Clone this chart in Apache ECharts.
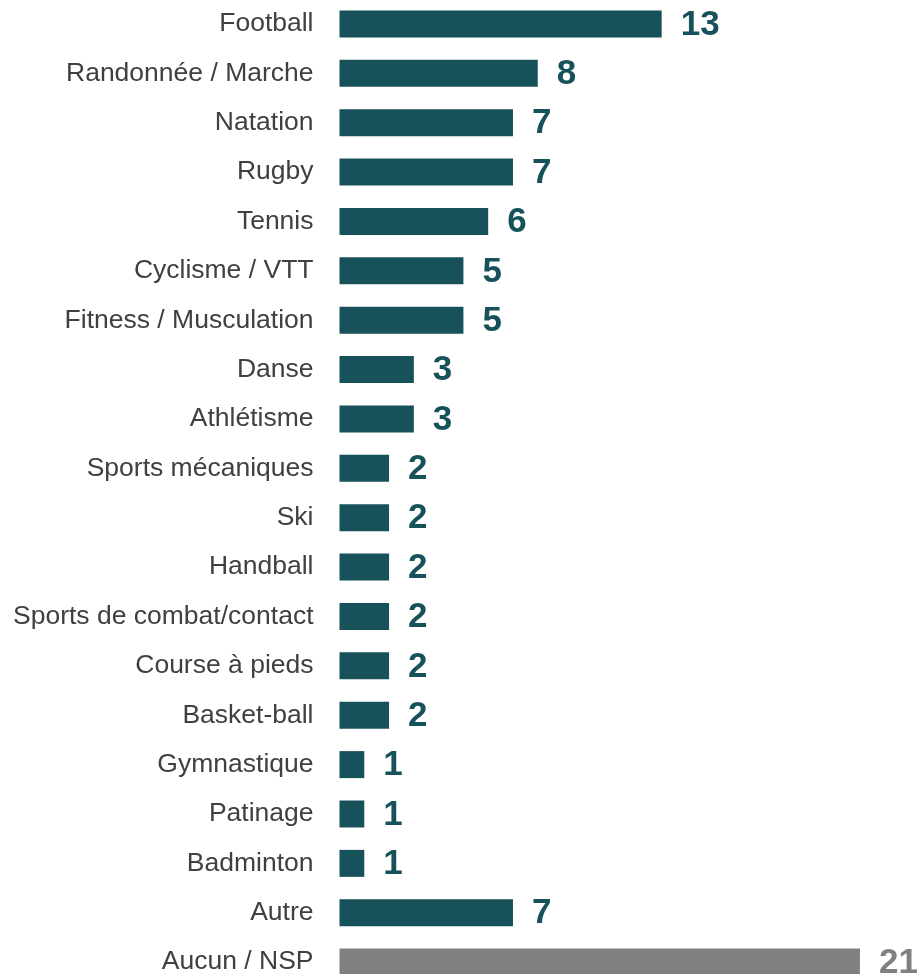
<!DOCTYPE html>
<html>
<head>
<meta charset="utf-8">
<script src="https://cdn.jsdelivr.net/npm/echarts@6/dist/echarts.min.js"></script>
<style>
html,body{margin:0;padding:0;background:#fff;}
#chart{width:918px;height:974px;}
</style>
</head>
<body>
<div id="chart"></div>
<script>
var categories = ['Football','Randonnée / Marche','Natation','Rugby','Tennis','Cyclisme / VTT','Fitness / Musculation','Danse','Athlétisme','Sports mécaniques','Ski','Handball','Sports de combat/contact','Course à pieds','Basket-ball','Gymnastique','Patinage','Badminton','Autre','Aucun / NSP'];
var values = [13,8,7,7,6,5,5,3,3,2,2,2,2,2,2,1,1,1,7,21];
var greyCategory = 'Aucun / NSP';

var TEAL = '#17525A';
var GREY = '#808080';

var seriesData = values.map(function(v, i){
  var isGrey = categories[i] === greyCategory;
  return {
    value: v,
    itemStyle: {color: isGrey ? GREY : TEAL},
    label: {color: isGrey ? GREY : TEAL}
  };
});

var chart = echarts.init(document.getElementById('chart'), null, {renderer:'canvas'});
chart.setOption({
  animation: false,
  backgroundColor: '#ffffff',
  grid: {left: 339.5, width: 570, top: -0.7, height: 987.5, containLabel: false, outerBoundsMode: 'none'},
  xAxis: {
    type: 'value', min: 0, max: 23,
    show: false
  },
  yAxis: {
    type: 'category', data: categories, inverse: true,
    axisLine: {show: false}, axisTick: {show: false},
    axisLabel: {
      margin: 26, color: '#404040', fontSize: 26.5,
      fontFamily: 'Liberation Sans, Arial, sans-serif'
    }
  },
  series: [{
    type: 'bar',
    data: seriesData,
    barWidth: 27,
    label: {
      show: true, position: 'right', distance: 19,
      fontSize: 35, fontWeight: 'bold',
      fontFamily: 'Liberation Sans, Arial, sans-serif',
      offset: [0, 1]
    }
  }]
});
</script>
</body>
</html>
